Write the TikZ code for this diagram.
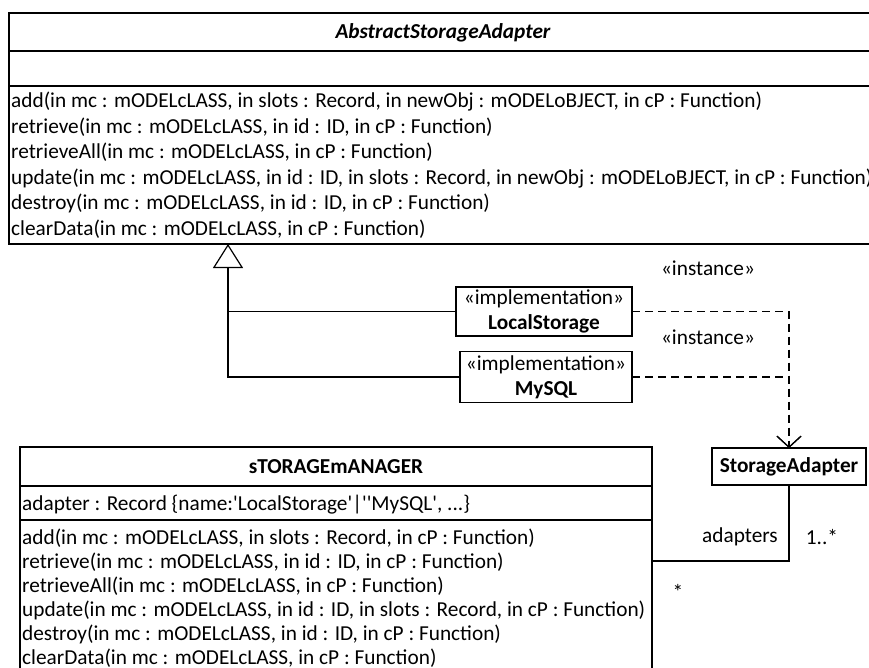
\documentclass[tikz,border=0pt]{standalone}
\usepackage{fontspec}
\setmainfont{Carlito}[Ligatures=TeXOff]
\usetikzlibrary{arrows.meta}
\begin{document}
\begin{tikzpicture}[x=1pt,y=-1pt,
  font=\fontsize{21.3}{25}\selectfont,
  classbox/.style={draw, line width=1.6pt, inner sep=0pt, outer sep=0pt, anchor=north west},
  sep/.style={line width=1.6pt},
  row/.style={anchor=base west, inner sep=0pt},
  hdr/.style={anchor=base, inner sep=0pt, font=\fontsize{21.3}{25}\selectfont\bfseries},
  implbox/.style={draw, line width=1.6pt, inner sep=0pt, outer sep=0pt, align=center},
  lbl/.style={inner sep=0pt},
  conn/.style={line width=1.2pt},
  gen/.style={conn, -{Triangle[open, length=24pt, width=30pt, line width=1.2pt]}},
  dep/.style={conn, dash pattern=on 8pt off 5pt, -{Straight Barb[length=11pt, width=24pt, line width=1.2pt]}}
]
\useasboundingbox (0,0) rectangle (869,668);
\fill[white] (0,0) rectangle (869,668);

% AbstractStorageAdapter
\node[classbox, minimum width=868pt, minimum height=231pt] (abs) at (9,13) {};
\draw[sep] ([yshift=-38pt]abs.north west) -- ([yshift=-38pt]abs.north east);
\draw[sep] ([yshift=-73pt]abs.north west) -- ([yshift=-73pt]abs.north east);
\node[hdr, font=\fontsize{21.3}{25}\selectfont\bfseries\itshape] (absname) at (443,39) {AbstractStorageAdapter};
\node[row] (a1) at (11,108) {add(in mc : mODELcLASS, in slots : Record, in newObj : mODELoBJECT, in cP : Function)};
\node[row] (a2) at (11,133.5) {retrieve(in mc : mODELcLASS, in id : ID, in cP : Function)};
\node[row] (a3) at (11,159) {retrieveAll(in mc : mODELcLASS, in cP : Function)};
\node[row] (a4) at (11,184.5) {update(in mc : mODELcLASS, in id : ID, in slots : Record, in newObj : mODELoBJECT, in cP : Function)};
\node[row] (a5) at (11,210) {destroy(in mc : mODELcLASS, in id : ID, in cP : Function)};
\node[row] (a6) at (11,235.5) {clearData(in mc : mODELcLASS, in cP : Function)};

% implementations
\node[implbox, minimum width=176pt, minimum height=49pt] (ls) at (544,311.5) {«implementation»\\\textbf{LocalStorage}};
\node[implbox, minimum width=172pt, minimum height=51pt] (my) at (546,377) {«implementation»\\\textbf{MySQL}};

% StorageAdapter
\node[implbox, minimum width=154pt, minimum height=37pt, font=\fontsize{21.3}{25}\selectfont\bfseries] (sa) at (789,466.5) {StorageAdapter};

% sTORAGEmANAGER
\node[classbox, minimum width=632pt, minimum height=240pt] (sm) at (20,447) {};
\draw[sep] ([yshift=-39pt]sm.north west) -- ([yshift=-39pt]sm.north east);
\draw[sep] ([yshift=-73pt]sm.north west) -- ([yshift=-73pt]sm.north east);
\node[hdr] (smname) at (336,473) {sTORAGEmANAGER};
\node[row] (b0) at (22,510) {adapter : Record \{name:'LocalStorage'|''MySQL', ...\}};
\node[row] (b1) at (22,544) {add(in mc : mODELcLASS, in slots : Record, in cP : Function)};
\node[row] (b2) at (22,568) {retrieve(in mc : mODELcLASS, in id : ID, in cP : Function)};
\node[row] (b3) at (22,592) {retrieveAll(in mc : mODELcLASS, in cP : Function)};
\node[row] (b4) at (22,616) {update(in mc : mODELcLASS, in id : ID, in slots : Record, in cP : Function)};
\node[row] (b5) at (22,640) {destroy(in mc : mODELcLASS, in id : ID, in cP : Function)};
\node[row] (b6) at (22,664) {clearData(in mc : mODELcLASS, in cP : Function)};

% generalization
\coordinate (gentip) at (228,244);
\draw[gen] (my.west) -| (gentip);
\draw[conn] (ls.west) -- (ls.west -| gentip);

% dependencies
\draw[dep] (ls.east) -| (sa.north);
\draw[dep] (my.east) -| (sa.north);
\node[lbl] (i1) at (708,268) {«instance»};
\node[lbl] (i2) at (708,337) {«instance»};

% association
\draw[conn] ([yshift=-114pt]sm.north east) -| (sa.south);
\node[lbl] (adp) at (740,537) {adapters};
\node[lbl] (m1) at (822,537) {1..*};
\node[lbl] (m2) at (678,592) {*};
\end{tikzpicture}
\end{document}
